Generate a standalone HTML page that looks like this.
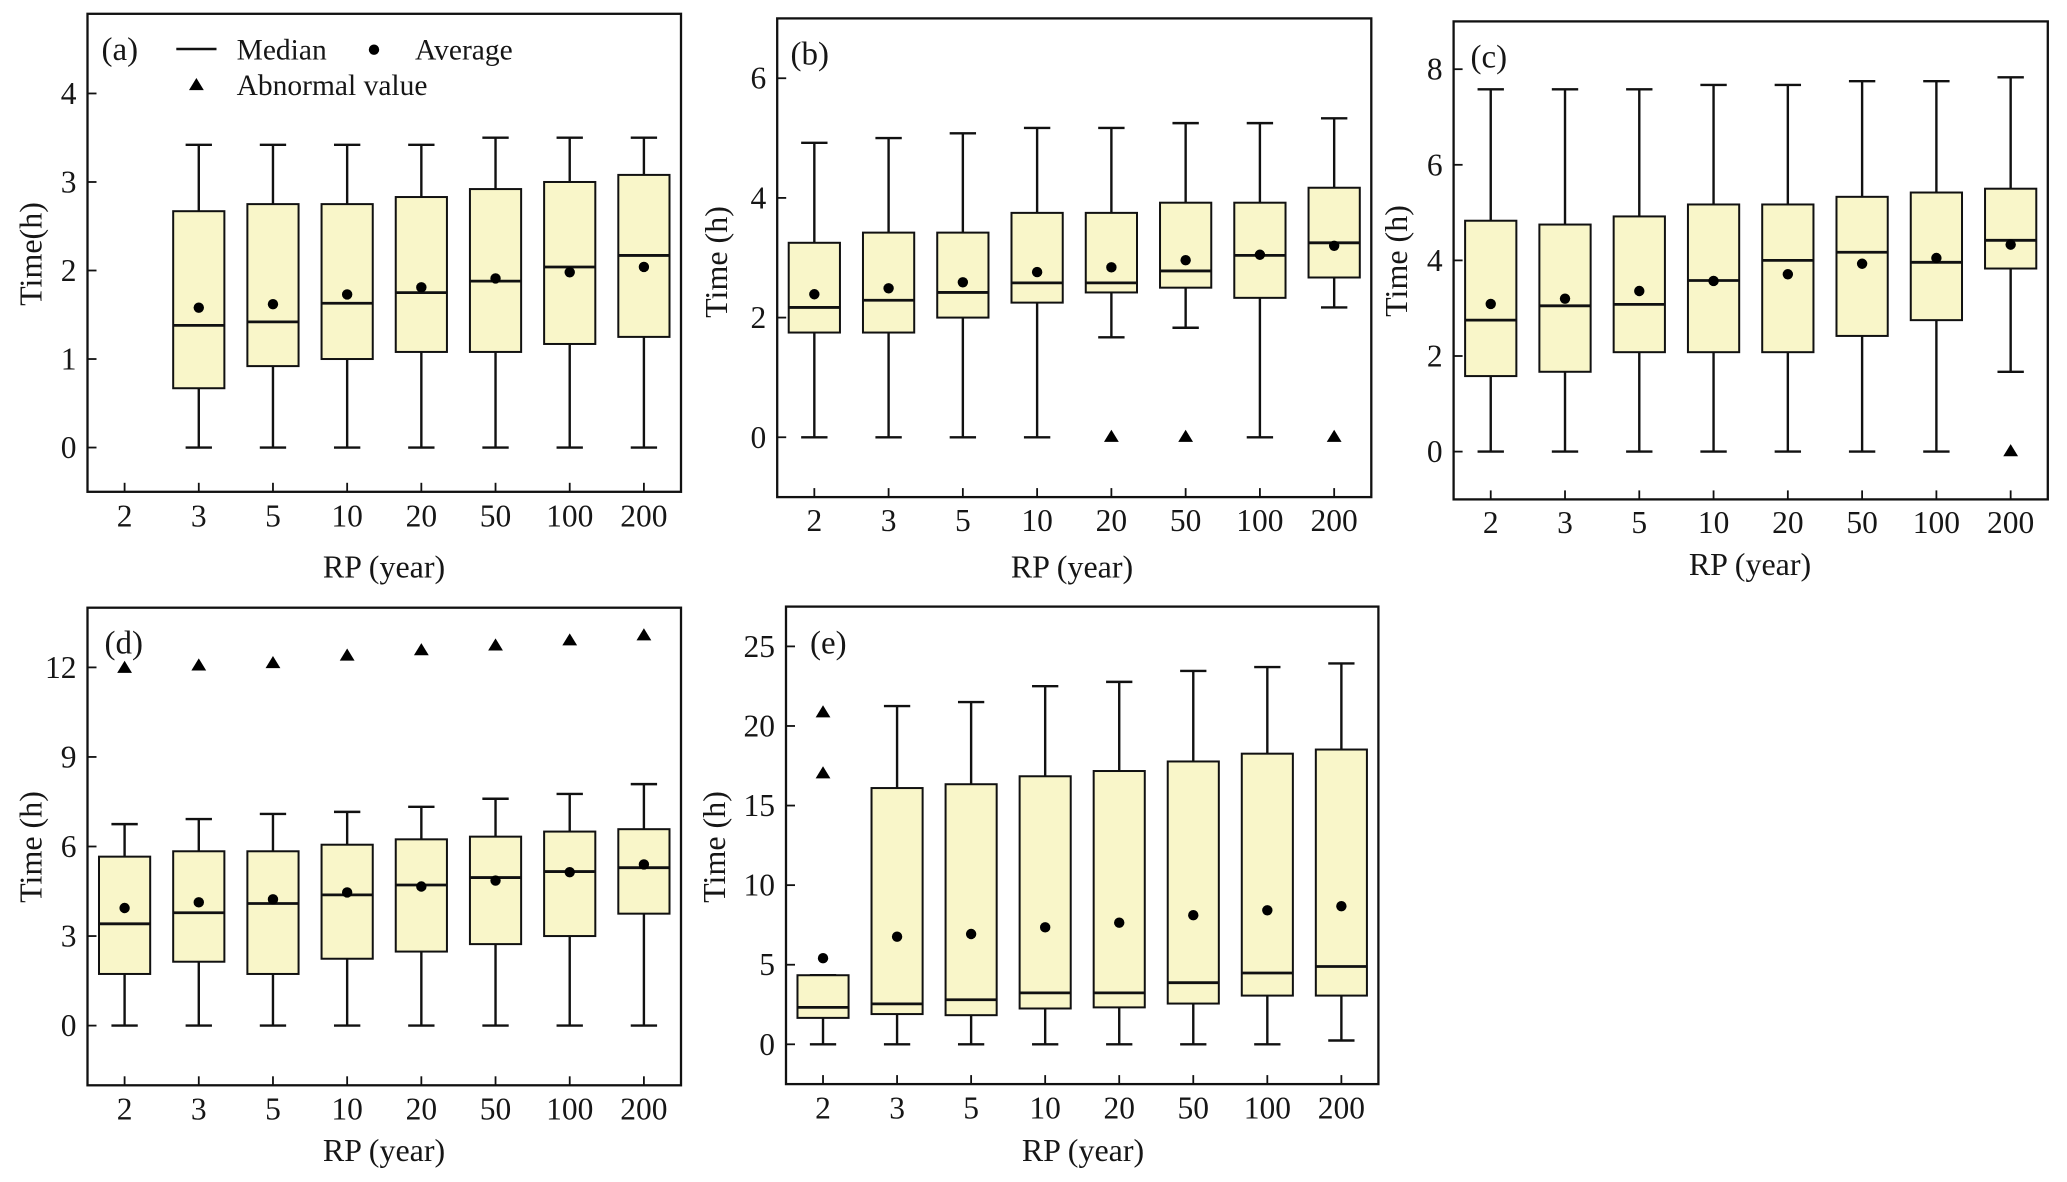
<!DOCTYPE html>
<html lang="en">
<head>
<meta charset="utf-8">
<title>Time versus RP box plots</title>
<style>
  html, body { margin: 0; padding: 0; background: #ffffff; }
  svg { display: block; }
  text { font-family: "Liberation Serif", "DejaVu Serif", serif; fill: #161616; }
</style>
</head>
<body>
<svg id="figure" xmlns="http://www.w3.org/2000/svg" width="2067" height="1182" viewBox="0 0 2067 1182"></svg>
<script>
const categories = ["2", "3", "5", "10", "20", "50", "100", "200"];

const aTicks = [0, 1, 2, 3, 4];
const aHigh = [null, 3.42, 3.42, 3.42, 3.42, 3.5, 3.5, 3.5];
const aQ3 = [null, 2.67, 2.75, 2.75, 2.83, 2.92, 3.0, 3.08];
const aMedian = [null, 1.38, 1.42, 1.63, 1.75, 1.88, 2.04, 2.17];
const aAverage = [null, 1.58, 1.62, 1.73, 1.81, 1.91, 1.98, 2.04];
const aQ1 = [null, 0.67, 0.92, 1.0, 1.08, 1.08, 1.17, 1.25];
const aLow = [null, 0, 0, 0, 0, 0, 0, 0];
const aOutliers = [[], [], [], [], [], [], [], []];

const bTicks = [0, 2, 4, 6];
const bHigh = [4.92, 5.0, 5.08, 5.17, 5.17, 5.25, 5.25, 5.33];
const bQ3 = [3.25, 3.42, 3.42, 3.75, 3.75, 3.92, 3.92, 4.17];
const bMedian = [2.17, 2.29, 2.42, 2.58, 2.58, 2.78, 3.04, 3.25];
const bAverage = [2.39, 2.49, 2.59, 2.76, 2.84, 2.96, 3.05, 3.2];
const bQ1 = [1.75, 1.75, 2.0, 2.25, 2.42, 2.5, 2.33, 2.67];
const bLow = [0, 0, 0, 0, 1.67, 1.83, 0, 2.17];
const bOutliers = [[], [], [], [], [0], [0], [], [0]];

const cTicks = [0, 2, 4, 6, 8];
const cHigh = [7.58, 7.58, 7.58, 7.67, 7.67, 7.75, 7.75, 7.83];
const cQ3 = [4.83, 4.75, 4.92, 5.17, 5.17, 5.33, 5.42, 5.5];
const cMedian = [2.75, 3.05, 3.08, 3.58, 4.0, 4.17, 3.96, 4.42];
const cAverage = [3.09, 3.2, 3.36, 3.57, 3.71, 3.93, 4.05, 4.33];
const cQ1 = [1.58, 1.67, 2.08, 2.08, 2.08, 2.42, 2.75, 3.83];
const cLow = [0, 0, 0, 0, 0, 0, 0, 1.67];
const cOutliers = [[], [], [], [], [], [], [], [0]];

const dTicks = [0, 3, 6, 9, 12];
const dHigh = [6.75, 6.92, 7.09, 7.16, 7.33, 7.6, 7.76, 8.09];
const dQ3 = [5.66, 5.84, 5.84, 6.06, 6.24, 6.33, 6.5, 6.58];
const dMedian = [3.41, 3.78, 4.09, 4.38, 4.71, 4.96, 5.16, 5.29];
const dAverage = [3.94, 4.13, 4.23, 4.46, 4.66, 4.86, 5.14, 5.4];
const dQ1 = [1.73, 2.14, 1.73, 2.24, 2.48, 2.73, 3.0, 3.75];
const dLow = [0, 0, 0, 0, 0, 0, 0, 0];
const dOutliers = [[11.97], [12.05], [12.13], [12.38], [12.56], [12.72], [12.89], [13.06]];

const eTicks = [0, 5, 10, 15, 20, 25];
const eHigh = [4.34, 21.25, 21.5, 22.5, 22.77, 23.46, 23.7, 23.93];
const eQ3 = [4.34, 16.1, 16.34, 16.84, 17.17, 17.77, 18.26, 18.52];
const eMedian = [2.32, 2.54, 2.8, 3.23, 3.23, 3.87, 4.48, 4.89];
const eAverage = [5.41, 6.76, 6.93, 7.35, 7.64, 8.11, 8.42, 8.68];
const eQ1 = [1.66, 1.9, 1.83, 2.25, 2.32, 2.56, 3.06, 3.06];
const eLow = [0, 0, 0, 0, 0, 0, 0, 0.24];
const eOutliers = [[20.83, 17.0], [], [], [], [], [], [], []];

const panels = [
  { id: "a", tag: "(a)", yTitle: "Time(h)", yMin: -0.5, yMax: 4.9, left: 87.5, right: 681, top: 13.8, bottom: 491.8,
    ticks: aTicks, high: aHigh, q3: aQ3, median: aMedian, average: aAverage, q1: aQ1, low: aLow, outliers: aOutliers,
    tagX: 101.5, tagY: 60, xTickY: 526.5, xTitleX: 384, xTitleY: 577.5, yTitleX: 41.5, yTitleY: 254 },
  { id: "b", tag: "(b)", yTitle: "Time (h)", yMin: -1, yMax: 7, left: 777.2, right: 1371.3, top: 18.4, bottom: 497.1,
    ticks: bTicks, high: bHigh, q3: bQ3, median: bMedian, average: bAverage, q1: bQ1, low: bLow, outliers: bOutliers,
    tagX: 790.5, tagY: 64.5, xTickY: 531, xTitleX: 1072, xTitleY: 577.5, yTitleX: 727, yTitleY: 262 },
  { id: "c", tag: "(c)", yTitle: "Time (h)", yMin: -1, yMax: 9, left: 1453.6, right: 2047.8, top: 21.4, bottom: 499.4,
    ticks: cTicks, high: cHigh, q3: cQ3, median: cMedian, average: cAverage, q1: cQ1, low: cLow, outliers: cOutliers,
    tagX: 1470.5, tagY: 67.5, xTickY: 533, xTitleX: 1750, xTitleY: 575, yTitleX: 1407, yTitleY: 261 },
  { id: "d", tag: "(d)", yTitle: "Time (h)", yMin: -2, yMax: 14, left: 87.5, right: 681, top: 607.7, bottom: 1085.3,
    ticks: dTicks, high: dHigh, q3: dQ3, median: dMedian, average: dAverage, q1: dQ1, low: dLow, outliers: dOutliers,
    tagX: 104.5, tagY: 653.5, xTickY: 1119.6, xTitleX: 384, xTitleY: 1160.8, yTitleX: 41.5, yTitleY: 847 },
  { id: "e", tag: "(e)", yTitle: "Time (h)", yMin: -2.5, yMax: 27.5, left: 786, right: 1378.4, top: 606.6, bottom: 1084.1,
    ticks: eTicks, high: eHigh, q3: eQ3, median: eMedian, average: eAverage, q1: eQ1, low: eLow, outliers: eOutliers,
    tagX: 810, tagY: 653.5, xTickY: 1118.5, xTitleX: 1083, xTitleY: 1160.8, yTitleX: 725, yTitleY: 847 }
];

const NS = "http://www.w3.org/2000/svg";
const INK = "#111111";
const BOX_FILL = "#f9f6c9";
const figure = document.getElementById("figure");

function make(tag, parent, props, content) {
  const node = document.createElementNS(NS, tag);
  for (const key in props) node.setAttribute(key, props[key]);
  if (content !== undefined) node.textContent = content;
  parent.appendChild(node);
  return node;
}

function seg(parent, x1, y1, x2, y2, width) {
  return make("line", parent, { x1: x1, y1: y1, x2: x2, y2: y2, stroke: INK, "stroke-width": width });
}

function triangle(parent, cx, cy) {
  const pts = [[cx, cy - 7.5], [cx + 7.4, cy + 4.6], [cx - 7.4, cy + 4.6]].map(function (p) { return p.join(","); }).join(" ");
  return make("polygon", parent, { points: pts, fill: "#000000" });
}

function drawPanel(p) {
  const y = function (v) { return p.bottom - (v - p.yMin) / (p.yMax - p.yMin) * (p.bottom - p.top); };
  const band = (p.right - p.left) / categories.length;
  const x = function (i) { return p.left + (i + 0.5) * band; };
  const boxW = band * 0.69;
  const capW = band * 0.355;

  const g = make("g", figure, {});
  
  

  const bg = make("rect", g, { x: p.left, y: p.top, width: p.right - p.left, height: p.bottom - p.top, fill: "#ffffff" });
  
  

  categories.forEach(function (cat, i) {
    if (p.q3[i] !== null) {
      const cx = x(i);
      const box = make("g", g, {});
      
      

      const stemUp = seg(box, cx, y(p.high[i]), cx, y(p.q3[i]), 2.4);
      
      

      const stemDown = seg(box, cx, y(p.low[i]), cx, y(p.q1[i]), 2.4);
      
      

      const capUp = seg(box, cx - capW / 2, y(p.high[i]), cx + capW / 2, y(p.high[i]), 2.4);
      
      

      const capDown = seg(box, cx - capW / 2, y(p.low[i]), cx + capW / 2, y(p.low[i]), 2.4);
      
      

      const rect = make("rect", box, { x: cx - boxW / 2, y: y(p.q3[i]), width: boxW, height: y(p.q1[i]) - y(p.q3[i]), fill: BOX_FILL, stroke: INK, "stroke-width": 2 });
      
      

      const med = seg(box, cx - boxW / 2, y(p.median[i]), cx + boxW / 2, y(p.median[i]), 2.8);
      
      

      const dot = make("circle", box, { cx: cx, cy: y(p.average[i]), r: 5.2, fill: "#000000" });
      
      
    }
    p.outliers[i].forEach(function (v) {
      const tri = triangle(g, x(i), y(v));
      
      
    });
  });

  const frame = make("rect", g, { x: p.left, y: p.top, width: p.right - p.left, height: p.bottom - p.top, fill: "none", stroke: INK, "stroke-width": 2.3 });
  
  

  p.ticks.forEach(function (v) {
    const mark = seg(g, p.left, y(v), p.left + 9, y(v), 1.8);
    
    

    const label = make("text", g, { x: p.left - 11, y: y(v) + 10.5, "text-anchor": "end", "font-size": 31.5 }, String(v));
    
    
  });

  categories.forEach(function (cat, i) {
    const mark = seg(g, x(i), p.bottom, x(i), p.bottom - 9, 1.8);
    
    

    const label = make("text", g, { x: x(i), y: p.xTickY, "text-anchor": "middle", "font-size": 31.5 }, cat);
    
    
  });

  const xTitle = make("text", g, { x: p.xTitleX, y: p.xTitleY, "text-anchor": "middle", "font-size": 32 }, "RP (year)");
  
  

  const yTitle = make("text", g, { x: 0, y: 0, "text-anchor": "middle", "font-size": 32, transform: "translate(" + p.yTitleX + "," + p.yTitleY + ") rotate(-90)" }, p.yTitle);
  
  

  const tag = make("text", g, { x: p.tagX, y: p.tagY, "font-size": 33 }, p.tag);
  
  
}

panels.forEach(drawPanel);

const legend = make("g", figure, {});



const legendMedianLine = seg(legend, 176.3, 49, 216.5, 49, 2.4);



const legendMedianText = make("text", legend, { x: 236.6, y: 59.3, "font-size": 29.5 }, "Median");



const legendDot = make("circle", legend, { cx: 374, cy: 49.7, r: 5.2, fill: "#000000" });



const legendAverageText = make("text", legend, { x: 415, y: 59.3, "font-size": 29.5 }, "Average");



const legendTriangle = triangle(legend, 196.4, 85.5);



const legendAbnormalText = make("text", legend, { x: 236.6, y: 95, "font-size": 29.5 }, "Abnormal value");


</script>
</body>
</html>
